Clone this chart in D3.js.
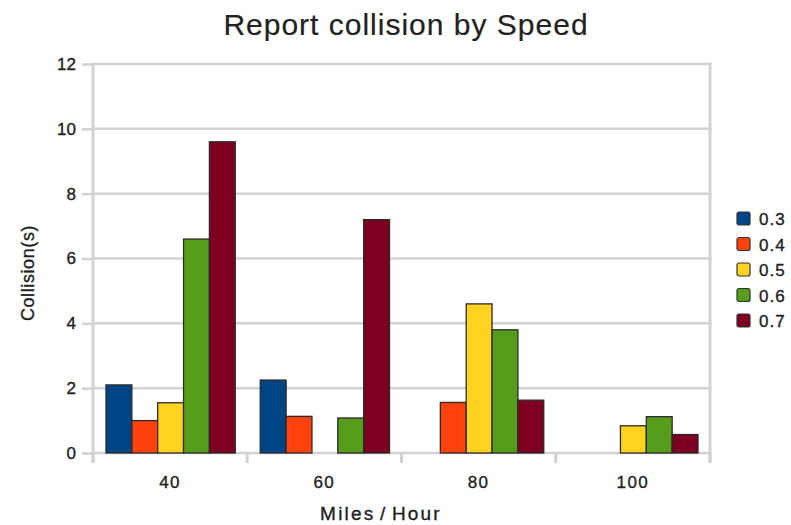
<!DOCTYPE html>
<html>
<head>
<meta charset="utf-8">
<script src="https://cdn.jsdelivr.net/npm/d3@7"></script>
<style>
  html, body { margin: 0; padding: 0; background: #fff; }
  svg { display: block; font-family: "Liberation Sans", Arial, sans-serif; }
  .lbl { fill: #222; stroke: #222; stroke-width: 0.35px; }
</style>
</head>
<body>
<svg id="chart" width="791" height="525"></svg>
<script>
// Speed categories (mph) and friction-coefficient series
const speeds = ["40", "60", "80", "100"];
const seriesNames = ["0.3", "0.4", "0.5", "0.6", "0.7"];
const s03 = [2.1, 2.25, 0, 0];
const s04 = [1.0, 1.13, 1.56, 0];
const s05 = [1.55, 0, 4.6, 0.84];
const s06 = [6.6, 1.08, 3.8, 1.12];
const s07 = [9.6, 7.2, 1.63, 0.57];
const seriesColors = ["#004586", "#ff420e", "#ffd320", "#579d1c", "#7e0021"];
const yTicks = [0, 2, 4, 6, 8, 10, 12];

const seriesValues = [s03, s04, s05, s06, s07];
const rows = speeds.map((sp, i) => ({
  speed: sp,
  values: seriesNames.map((name, j) => ({ name, value: seriesValues[j][i], color: seriesColors[j] }))
}));

const svg = d3.select("#chart");
const plot = { left: 93, right: 710, top: 64, bottom: 453 };
const gridColor = "#d2d2d2";

const x = d3.scaleBand().domain(speeds).range([plot.left, plot.right]).padding(0);
const inner = d3.scaleBand().domain(seriesNames)
  .range([13, x.bandwidth() - 12]).padding(0);
const y = d3.scaleLinear().domain([0, 12]).range([plot.bottom, plot.top]);

// horizontal gridlines
svg.append("g").selectAll("line").data(yTicks).join("line")
  .attr("x1", plot.left).attr("x2", plot.right + 1.5)
  .attr("y1", d => y(d)).attr("y2", d => y(d))
  .attr("stroke", gridColor).attr("stroke-width", 2.5);

// right border of the plot area
svg.append("line")
  .attr("x1", plot.right).attr("x2", plot.right)
  .attr("y1", plot.top - 1.2).attr("y2", plot.bottom + 10)
  .attr("stroke", gridColor).attr("stroke-width", 3);

// y axis
const yAxis = svg.append("g").attr("transform", `translate(${plot.left},0)`)
  .call(d3.axisLeft(y).tickValues(yTicks).tickSize(11).tickPadding(6).tickFormat(d3.format("d")));
yAxis.select(".domain").attr("stroke", gridColor).attr("stroke-width", 3)
  .attr("d", `M0,${plot.top - 1.2}V${plot.bottom + 10}`);
yAxis.selectAll(".tick line").attr("stroke", gridColor).attr("stroke-width", 2.5);
yAxis.selectAll(".tick text").attr("class", "lbl").attr("fill", null)
  .style("font-size", "17px").style("font-family", "Liberation Sans, Arial, sans-serif");

// x axis: ticks at category boundaries, labels at centres
const xg = svg.append("g");
const boundaries = speeds.map(s => x(s)).concat([plot.right]);
xg.selectAll("line").data(boundaries).join("line")
  .attr("x1", d => d).attr("x2", d => d)
  .attr("y1", plot.bottom).attr("y2", plot.bottom + 10)
  .attr("stroke", gridColor).attr("stroke-width", 3);
xg.selectAll("text").data(speeds).join("text")
  .attr("class", "lbl")
  .attr("x", d => x(d) + x.bandwidth() / 2)
  .attr("y", 488)
  .attr("text-anchor", "middle")
  .style("font-size", "17px").style("letter-spacing", "1.5px")
  .text(d => d);

// bars
const groups = svg.append("g").selectAll("g").data(rows).join("g")
  .attr("transform", d => `translate(${x(d.speed)},0)`);
groups.selectAll("rect").data(d => d.values.filter(v => v.value > 0)).join("rect")
  .attr("x", d => inner(d.name))
  .attr("y", d => y(d.value))
  .attr("width", inner.bandwidth())
  .attr("height", d => y(0) - y(d.value))
  .attr("fill", d => d.color)
  .attr("stroke", "#2a2a2a").attr("stroke-width", 1.3);

// titles
svg.append("text").attr("x", 406).attr("y", 35).attr("text-anchor", "middle")
  .attr("class", "lbl").style("font-size", "30px").style("letter-spacing", "1px")
  .style("stroke-width", "0.2px")
  .text("Report collision by Speed");
svg.append("text").attr("x", 381).attr("y", 520).attr("text-anchor", "middle")
  .attr("class", "lbl").style("font-size", "19px").style("letter-spacing", "2.2px")
  .style("word-spacing", "-3px")
  .text("Miles / Hour");
svg.append("text").attr("transform", "translate(34,273) rotate(-90)").attr("text-anchor", "middle")
  .attr("class", "lbl").style("font-size", "18px").style("letter-spacing", "0.6px")
  .text("Collision(s)");

// legend
const legend = svg.append("g").attr("transform", "translate(737,212)");
const li = legend.selectAll("g").data(seriesNames).join("g")
  .attr("transform", (d, i) => `translate(0,${i * 25.5})`);
li.append("rect").attr("width", 13).attr("height", 13).attr("rx", 2)
  .attr("fill", (d, i) => seriesColors[i]).attr("stroke", "#333").attr("stroke-width", 1.2);
li.append("text").attr("x", 22).attr("y", 13).attr("class", "lbl")
  .style("font-size", "17px").style("letter-spacing", "1px").text(d => d);
</script>
</body>
</html>
